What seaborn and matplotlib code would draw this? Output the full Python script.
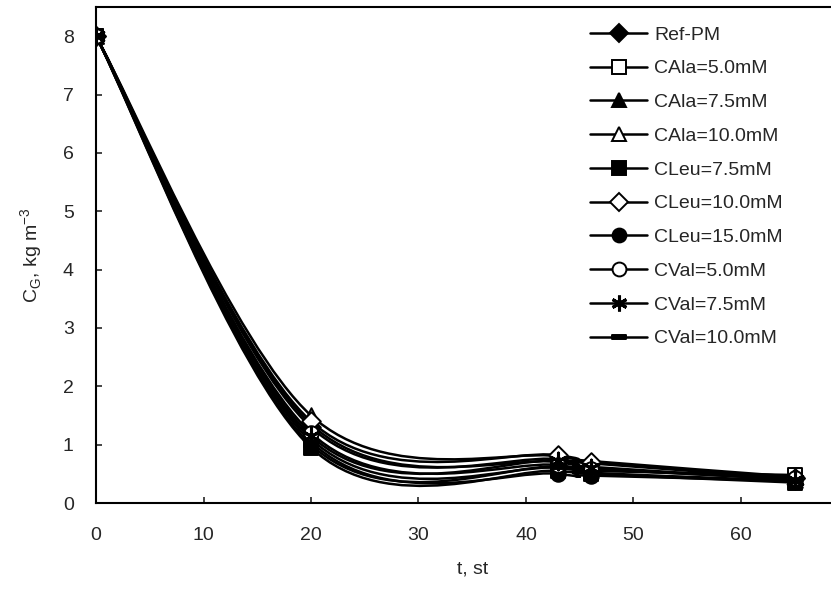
import numpy as np
import pandas as pd
import matplotlib
matplotlib.use("Agg")
import matplotlib.pyplot as plt
import seaborn as sns
from matplotlib.path import Path
from matplotlib.patches import PathPatch
from matplotlib.lines import Line2D

# ---------------- data ----------------
t_values = [0, 20, 43, 46, 65]
series_names = ["Ref-PM", "CAla=5.0mM", "CAla=7.5mM", "CAla=10.0mM", "CLeu=7.5mM",
                "CLeu=10.0mM", "CLeu=15.0mM", "CVal=5.0mM", "CVal=7.5mM", "CVal=10.0mM"]
ref_pm   = [8.0, 1.30, 0.75, 0.68, 0.42]
cala_5   = [8.0, 1.10, 0.60, 0.55, 0.48]
cala_75  = [8.0, 1.35, 0.70, 0.62, 0.40]
cala_10  = [8.0, 1.50, 0.80, 0.72, 0.45]
cleu_75  = [8.0, 0.95, 0.55, 0.50, 0.35]
cleu_10  = [8.0, 1.40, 0.82, 0.70, 0.43]
cleu_15  = [8.0, 1.05, 0.50, 0.47, 0.38]
cval_5   = [8.0, 1.20, 0.65, 0.58, 0.42]
cval_75  = [8.0, 1.15, 0.72, 0.60, 0.40]
cval_10  = [8.0, 1.00, 0.62, 0.52, 0.38]
series_values = [ref_pm, cala_5, cala_75, cala_10, cleu_75,
                 cleu_10, cleu_15, cval_5, cval_75, cval_10]
x_ticks = [0, 10, 20, 30, 40, 50, 60]
y_ticks = [0, 1, 2, 3, 4, 5, 6, 7, 8]

# ---------------- style ----------------
sns.set_style("ticks")
plt.rcParams['font.family'] = ['Liberation Sans', 'DejaVu Sans']
plt.rcParams['mathtext.fontset'] = 'custom'
plt.rcParams['mathtext.rm'] = 'Liberation Sans'

dash_marker = Path([(-1, -0.35), (1, -0.35), (1, 0.35), (-1, 0.35), (-1, -0.35)],
                   [Path.MOVETO, Path.LINETO, Path.LINETO, Path.LINETO, Path.CLOSEPOLY])
styles = [
    dict(marker='D', fc='black', ms=9.5),
    dict(marker='s', fc='white', ms=10),
    dict(marker='^', fc='black', ms=10.5),
    dict(marker='^', fc='white', ms=10.5),
    dict(marker='s', fc='black', ms=10),
    dict(marker='D', fc='white', ms=9.5),
    dict(marker='o', fc='black', ms=10.5),
    dict(marker='o', fc='white', ms=10.5),
    dict(marker=(6, 2, 0), fc='black', ms=12),
    dict(marker=dash_marker, fc='black', ms=10),
]

fig = plt.figure(figsize=(8.31, 5.89), dpi=100)
W, H = 831, 589
x0_px, y0_px, ytop_px = 96, 503, 7
px_per_t = 10.75
xmax = 70
ax = fig.add_axes([x0_px / W, (H - y0_px) / H, xmax * px_per_t / W, (y0_px - ytop_px) / H])


def smooth_path(x, y):
    P = np.column_stack([x, y]).astype(float)
    n = len(P)
    verts = [P[0]]
    codes = [Path.MOVETO]
    for i in range(n - 1):
        p0 = P[max(i - 1, 0)]
        p1 = P[i]
        p2 = P[i + 1]
        p3 = P[min(i + 2, n - 1)]
        c1 = p1 + (p2 - p0) / 6.0
        c2 = p2 - (p3 - p1) / 6.0
        verts += [c1, c2, p2]
        codes += [Path.CURVE4] * 3
    return Path(verts, codes)


handles = []
for name, vals, st in zip(series_names, series_values, styles):
    df = pd.DataFrame({"t": t_values, "c": vals})
    patch = PathPatch(smooth_path(df["t"], df["c"]), fill=False, edgecolor='black',
                      lw=1.8, transform=ax.transData, zorder=2)
    ax.add_patch(patch)
    mew = 2.2 if st['marker'] == (6, 2, 0) else 1.4
    sns.scatterplot(data=df, x="t", y="c", ax=ax, marker=st['marker'], s=st['ms'] ** 2,
                    color=st['fc'], edgecolor='black', linewidth=mew, zorder=3, legend=False)
    handles.append(Line2D([], [], color='black', lw=1.8, marker=st['marker'],
                          markerfacecolor=st['fc'], markeredgecolor='black',
                          markeredgewidth=mew, markersize=st['ms'] * 0.95))

ax.set_xlim(0, xmax)
ax.set_ylim(0, 8.5)
ax.set_xticks(x_ticks)
ax.set_yticks(y_ticks)
ax.tick_params(direction='in', length=4, width=1.2, labelsize=14)
ax.tick_params(axis='y', pad=16)
ax.tick_params(axis='x', pad=17)
for sp in ax.spines.values():
    sp.set_linewidth(1.5)
    sp.set_color('black')

ax.set_xlabel("t, st", fontsize=14, labelpad=12)
ax.set_ylabel(r"C$_\mathregular{G}$, kg m$^\mathregular{-3}$", fontsize=14, labelpad=13)

fig.legend(handles=handles, labels=series_names, loc='upper left',
           bbox_to_anchor=(590 / W, 1 - 26 / H), frameon=False, fontsize=14,
           handlelength=2.95, handletextpad=0.35, labelspacing=0.83, borderpad=0,
           borderaxespad=0)

fig.savefig("out.png", dpi=100)
